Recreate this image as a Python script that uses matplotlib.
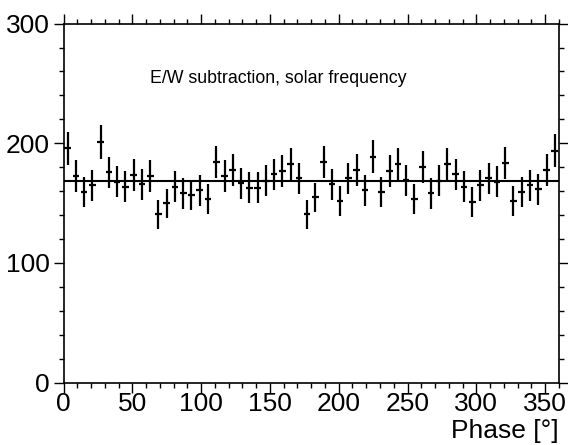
import numpy as np
import matplotlib.pyplot as plt
from matplotlib.ticker import MultipleLocator

plt.rcParams['font.family'] = ['Liberation Sans', 'DejaVu Sans']

# ---------------------- DATA -----------------------------------------------
# 60 phase bins of 6 degrees, counts per bin, errors are sqrt(N)
bin_width = 6.0
counts = [195.6, 172.8, 158.9, 164.7, 200.7, 175.6, 167.8, 163.6, 173.4, 165.8,
          172.5, 140.5, 149.7, 163.6, 158.0, 156.6, 160.6, 153.6, 184.5, 172.5,
          177.5, 166.4, 162.8, 162.8, 168.6, 173.9, 176.7, 182.8, 170.6, 140.5,
          154.7, 184.5, 165.8, 151.9, 170.6, 177.5, 160.6, 188.6, 159.4, 176.7,
          182.3, 169.2, 153.6, 179.8, 158.0, 168.6, 182.8, 173.9, 163.6, 150.8,
          164.7, 170.6, 167.8, 183.6, 151.9, 158.9, 164.7, 161.4, 177.5, 193.7]
fit_const = 168.5
label_text = "E/W subtraction, solar frequency"

counts = np.array(counts)
centers = bin_width * (np.arange(len(counts)) + 0.5)
errors = np.sqrt(counts)

# ---------------------- PLOT ------------------------
fig = plt.figure(figsize=(5.68, 4.45), dpi=100)
ax = fig.add_axes([0.1118, 0.1404, 0.8722, 0.8066])

ax.errorbar(centers, counts, yerr=errors, xerr=0.4 * bin_width,
            fmt='none', ecolor='black', elinewidth=1.6, capsize=0)
ax.axhline(fit_const, color='black', linewidth=1.5)

ax.text(62.8, 254, label_text, fontsize=12.8, va='center', ha='left')

ax.set_xlim(0, 360)
ax.set_ylim(0, 300)
ax.xaxis.set_major_locator(MultipleLocator(50))
ax.xaxis.set_minor_locator(MultipleLocator(10))
ax.yaxis.set_major_locator(MultipleLocator(100))
ax.yaxis.set_minor_locator(MultipleLocator(20))
ax.tick_params(which='both', direction='out', top=True, right=True,
               labelsize=19, width=1.0)
ax.tick_params(axis='x', pad=0)
ax.tick_params(axis='y', pad=3)
ax.tick_params(which='major', length=7)
ax.tick_params(which='minor', length=3.5)
for s in ax.spines.values():
    s.set_linewidth(1.2)

# x title sits at the right end, below the tick labels (ROOT style)
fig.text(559 / 568, 2 / 445, 'Phase [°]', fontsize=19, ha='right', va='bottom')

plt.savefig('out.png', dpi=100)
